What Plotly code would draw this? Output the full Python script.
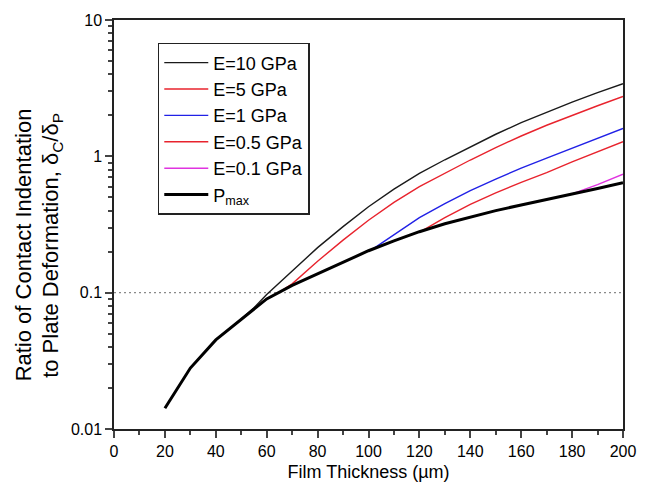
import plotly.graph_objects as go

# film thickness (um) for the Pmax curve
x_pmax = [20, 30, 40, 50, 60, 70, 80, 90, 100, 110, 120, 130, 140, 150, 160, 170, 180, 190, 200]
y_pmax = [0.0142, 0.028, 0.045, 0.064, 0.09, 0.113, 0.137, 0.167, 0.203, 0.24, 0.28, 0.32, 0.36, 0.40, 0.44, 0.485, 0.53, 0.58, 0.64]

x_e10 = [50, 55, 60, 65, 70, 80, 90, 100, 110, 120, 130, 140, 150, 160, 170, 180, 190, 200]
y_e10 = [0.064, 0.0775, 0.097, 0.118, 0.145, 0.214, 0.305, 0.427, 0.575, 0.75, 0.944, 1.175, 1.452, 1.766, 2.113, 2.5, 2.93, 3.41]

x_e5 = [58, 60, 65, 70, 80, 90, 100, 110, 120, 130, 140, 150, 160, 170, 180, 190, 200]
y_e5 = [0.085, 0.09, 0.101, 0.116, 0.17, 0.243, 0.34, 0.46, 0.60, 0.755, 0.94, 1.16, 1.41, 1.69, 2.0, 2.35, 2.75]

x_e1 = [101.5, 110, 120, 130, 140, 150, 160, 170, 180, 190, 200]
y_e1 = [0.208, 0.265, 0.355, 0.45, 0.56, 0.68, 0.82, 0.97, 1.15, 1.36, 1.60]

x_e05 = [121, 130, 140, 150, 160, 170, 180, 190, 200]
y_e05 = [0.284, 0.355, 0.445, 0.54, 0.645, 0.76, 0.91, 1.08, 1.28]

x_e01 = [180, 190, 200]
y_e01 = [0.53, 0.62, 0.74]

ref_x = [0, 200]
ref_y = [0.1, 0.1]

fig = go.Figure()

fig.add_trace(go.Scatter(x=ref_x, y=ref_y, mode="lines", showlegend=False,
                         line=dict(color="#8a8a8a", width=1.3, dash="2px,3px")))

curves = [
    ("E=10 GPa", x_e10, y_e10, "#1a1a1a"),
    ("E=5 GPa", x_e5, y_e5, "#e8232d"),
    ("E=1 GPa", x_e1, y_e1, "#2121e6"),
    ("E=0.5 GPa", x_e05, y_e05, "#e8232d"),
    ("E=0.1 GPa", x_e01, y_e01, "#e033e0"),
]
for name, xs, ys, col in curves:
    fig.add_trace(go.Scatter(x=xs, y=ys, mode="lines", name=name,
                             line=dict(color=col, width=1.4)))

fig.add_trace(go.Scatter(x=x_pmax, y=y_pmax, mode="lines", name="P<sub>max</sub>",
                         line=dict(color="black", width=3)))

minor_y = [k * 10 ** n for n in (-2, -1, 0) for k in range(2, 10)]

# page body has an 8px margin, so the figure is 8px smaller than the window
fig.update_layout(
    width=638, height=483,
    margin=dict(l=106, r=23, t=12, b=62),
    plot_bgcolor="white", paper_bgcolor="white",
    font=dict(family="Liberation Sans, Arial", size=16, color="black"),
    legend=dict(x=0.086, y=0.944, xanchor="left", yanchor="top",
                bordercolor="#222", borderwidth=1.5, bgcolor="white",
                font=dict(size=18), itemwidth=44, tracegroupgap=0),
    xaxis=dict(range=[0, 200], tickvals=list(range(0, 201, 20)), automargin=False,
               ticks="outside", ticklen=7, tickwidth=1.5, showgrid=False, zeroline=False,
               showline=True, linecolor="#222", linewidth=1.5, mirror=True,
               minor=dict(tickvals=list(range(10, 200, 20)), ticks="outside", ticklen=4, tickwidth=1.5),
               title=dict(text="Film Thickness (µm)", font=dict(size=18), standoff=6)),
    yaxis=dict(type="log", range=[-2, 1], tickvals=[0.01, 0.1, 1, 10], automargin=False,
               ticktext=["0.01", "0.1", "1", "10"],
               ticks="outside", ticklen=7, tickwidth=1.5, showgrid=False, zeroline=False,
               showline=True, linecolor="#222", linewidth=1.5, mirror=True,
               minor=dict(tickvals=minor_y, ticks="outside", ticklen=4, tickwidth=1.5)),
)

# y title as two rotated lines, sitting a little below the plot centre
fig.add_annotation(text="Ratio of Contact Indentation", textangle=-90,
                   xref="paper", yref="paper", x=-0.176, y=0.45,
                   xanchor="center", yanchor="middle", showarrow=False,
                   font=dict(size=22))
fig.add_annotation(text="to Plate Deformation, δ<sub>C</sub>/δ<sub>P</sub>", textangle=-90,
                   xref="paper", yref="paper", x=-0.122, y=0.45,
                   xanchor="center", yanchor="middle", showarrow=False,
                   font=dict(size=22))

fig.write_html("out.html")
